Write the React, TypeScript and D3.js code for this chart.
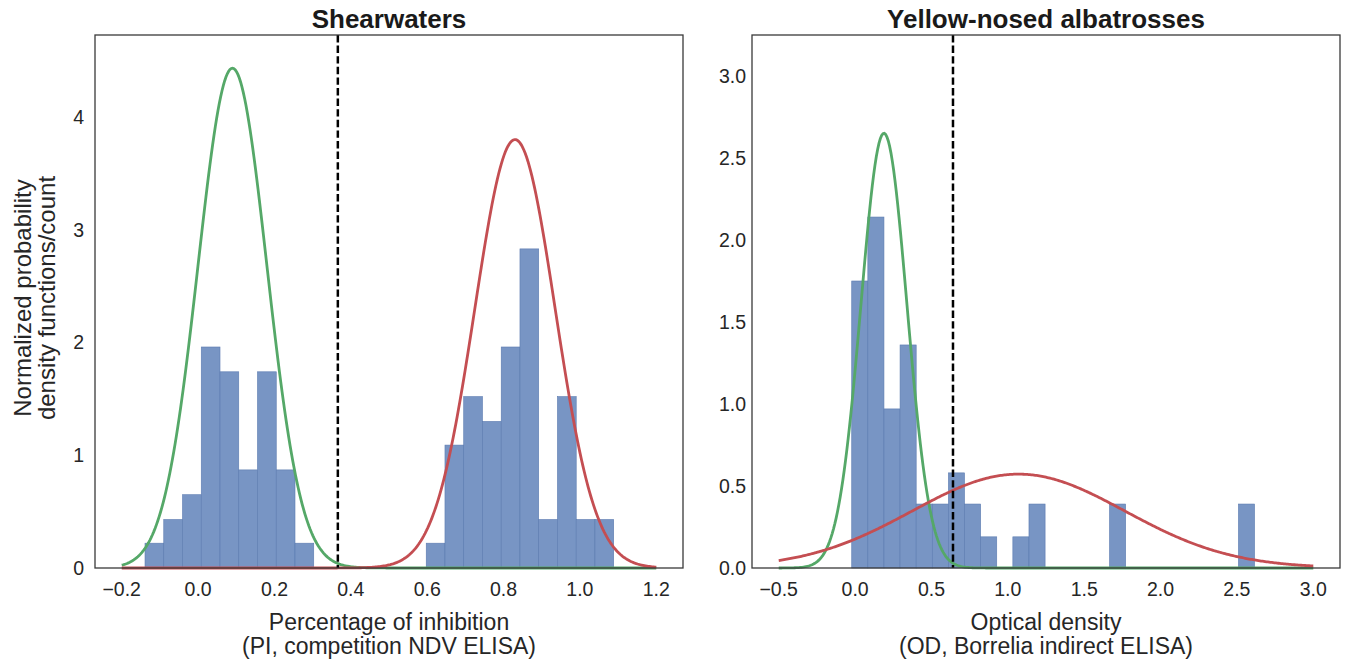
import React from "react";
import * as d3 from "d3";

// ---------- data ----------
const leftBinStart = -0.139;
const leftBinWidth = 0.0491;
const leftHeights = [0.22, 0.43, 0.65, 1.96, 1.74, 0.87, 1.74, 0.87, 0.22, 0, 0, 0, 0, 0, 0, 0.22, 1.09, 1.52, 1.30, 1.96, 2.83, 0.43, 1.52, 0.43, 0.43];
const leftNegFit = { mean: 0.09, sd: 0.09, from: -0.2, to: 1.2 };
const leftPosFit = { mean: 0.83, sd: 0.105, from: -0.2, to: 1.2 };
const leftCutoff = 0.366;
const leftXTicks = [-0.2, 0.0, 0.2, 0.4, 0.6, 0.8, 1.0, 1.2];
const leftYTicks = [0, 1, 2, 3, 4];

const rightBinStart = -0.022;
const rightBinWidth = 0.1055;
const rightHeights = [1.75, 2.14, 0.97, 1.36, 0.39, 0.39, 0.58, 0.39, 0.19, 0, 0.19, 0.39, 0, 0, 0, 0, 0.39, 0, 0, 0, 0, 0, 0, 0, 0.39];
const rightNegFit = { mean: 0.189, sd: 0.1505, from: -0.5, to: 3.0 };
const rightPosFit = { mean: 1.07, sd: 0.697, from: -0.5, to: 3.0 };
const rightCutoff = 0.641;
const rightXTicks = [-0.5, 0.0, 0.5, 1.0, 1.5, 2.0, 2.5, 3.0];
const rightYTicks = [0.0, 0.5, 1.0, 1.5, 2.0, 2.5, 3.0];

const titles = ["Shearwaters", "Yellow-nosed albatrosses"];
const xLabels = [
  ["Percentage of inhibition", "(PI, competition NDV ELISA)"],
  ["Optical density", "(OD, Borrelia indirect ELISA)"],
];
const yLabel = ["Normalized probability", "density functions/count"];

// ---------- style ----------
const FONT = "'Liberation Sans', Arial, Helvetica, sans-serif";
const BAR = "#7895c4";
const BAR_EDGE = "#5b7bb0";
const GREEN = "#55a868";
const RED = "#c44e52";
const FRAME = "#3a3a3a";

type Fit = { mean: number; sd: number; from: number; to: number };

function pdfPoints(f: Fit, n = 400): [number, number][] {
  const xs = d3.range(n + 1).map((i) => f.from + ((f.to - f.from) * i) / n);
  return xs.map((x) => [x, Math.exp(-0.5 * ((x - f.mean) / f.sd) ** 2) / (f.sd * Math.sqrt(2 * Math.PI))]);
}

const fmt = (v: number, dec: number) => (v < 0 ? "\u2212" : "") + Math.abs(v).toFixed(dec);

function Panel(props: {
  x0: number; x1: number; y0: number; y1: number;
  xDomain: [number, number]; yDomain: [number, number];
  binStart: number; binWidth: number; heights: number[];
  neg: Fit; pos: Fit; cutoff: number;
  xTicks: number[]; yTicks: number[]; xDec: number; yDec: number;
  title: string; xLabel: string[]; yPad: number;
}) {
  const { x0, x1, y0, y1 } = props;
  const x = d3.scaleLinear().domain(props.xDomain).range([x0, x1]);
  const y = d3.scaleLinear().domain(props.yDomain).range([y1, y0]);
  const line = d3.line<[number, number]>().x((d) => x(d[0])).y((d) => y(d[1]));
  const cx = (x0 + x1) / 2;
  return (
    <g>
      {props.heights.map((h, i) =>
        h > 0 ? (
          <rect
            key={i}
            x={x(props.binStart + i * props.binWidth)}
            y={y(h)}
            width={x(props.binStart + (i + 1) * props.binWidth) - x(props.binStart + i * props.binWidth)}
            height={y(0) - y(h)}
            fill={BAR}
            stroke={BAR_EDGE}
            strokeWidth={0.6}
          />
        ) : null
      )}
      <path d={line(pdfPoints(props.neg)) || ""} fill="none" stroke={GREEN} strokeWidth={2.8} />
      <path d={line(pdfPoints(props.pos)) || ""} fill="none" stroke={RED} strokeWidth={2.8} />
      <line x1={x(props.cutoff)} x2={x(props.cutoff)} y1={y0} y2={y1} stroke="#000" strokeWidth={2.5} strokeDasharray="7.4,3.2" />
      <rect x={x0} y={y0} width={x1 - x0} height={y1 - y0} fill="none" stroke={FRAME} strokeWidth={1.3} />
      {props.xTicks.map((t) => (
        <text key={t} x={x(t)} y={y1 + 28} textAnchor="middle" fontSize={19.5} fill="#262626" fontFamily={FONT}>
          {fmt(t, props.xDec)}
        </text>
      ))}
      {props.yTicks.map((t) => (
        <text key={t} x={x0 - props.yPad} y={y(t)} dy="0.35em" textAnchor="end" fontSize={19.5} fill="#262626" fontFamily={FONT}>
          {fmt(t, props.yDec)}
        </text>
      ))}
      <text x={cx} y={28} textAnchor="middle" fontSize={26} fontWeight="bold" fill="#1a1a1a" fontFamily={FONT}>
        {props.title}
      </text>
      <text x={cx} y={y1 + 62} textAnchor="middle" fontSize={23} fill="#262626" fontFamily={FONT}>
        {props.xLabel[0]}
      </text>
      <text x={cx} y={y1 + 86} textAnchor="middle" fontSize={23} fill="#262626" fontFamily={FONT}>
        {props.xLabel[1]}
      </text>
    </g>
  );
}

export default function App() {
  return (
    <svg width={1346} height={663} style={{ position: "absolute", left: 0, top: 0, background: "#fff" }}>
      <rect width={1346} height={663} fill="#fff" />
      <Panel
        x0={95} x1={683} y0={35} y1={568}
        xDomain={[-0.27, 1.27]} yDomain={[0, 4.727]}
        binStart={leftBinStart} binWidth={leftBinWidth} heights={leftHeights}
        neg={leftNegFit} pos={leftPosFit} cutoff={leftCutoff}
        xTicks={leftXTicks} yTicks={leftYTicks} xDec={1} yDec={0}
        title={titles[0]} xLabel={xLabels[0]} yPad={11}
      />
      <Panel
        x0={752} x1={1340} y0={35} y1={568}
        xDomain={[-0.675, 3.175]} yDomain={[0, 3.25]}
        binStart={rightBinStart} binWidth={rightBinWidth} heights={rightHeights}
        neg={rightNegFit} pos={rightPosFit} cutoff={rightCutoff}
        xTicks={rightXTicks} yTicks={rightYTicks} xDec={1} yDec={1}
        title={titles[1]} xLabel={xLabels[1]} yPad={6}
      />
      <g transform="translate(0,298) rotate(-90)" fontFamily={FONT} fontSize={24} fill="#262626">
        <text x={0} y={31} textAnchor="middle">{yLabel[0]}</text>
        <text x={0} y={55} textAnchor="middle">{yLabel[1]}</text>
      </g>
    </svg>
  );
}
